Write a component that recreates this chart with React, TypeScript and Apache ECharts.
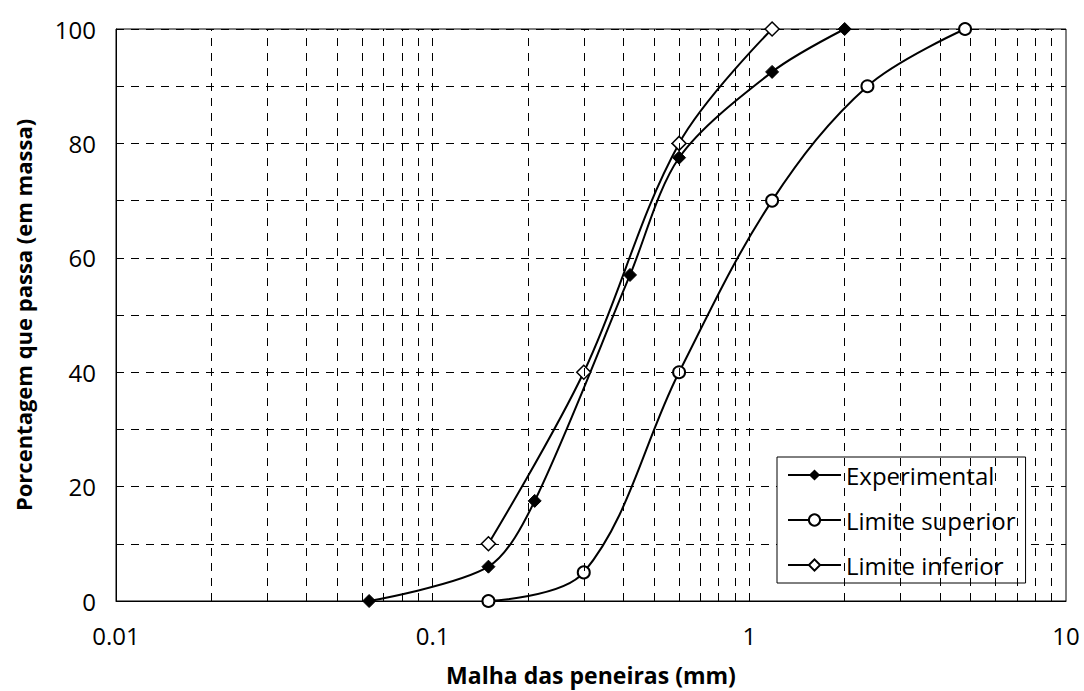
import React, { useEffect, useRef } from "react";
import * as echarts from "echarts";

const sieveExp = [0.063, 0.15, 0.21, 0.42, 0.6, 1.18, 2.0];
const passExp = [0, 6, 17.5, 57, 77.5, 92.5, 100];
const sieveSup = [0.15, 0.3, 0.6, 1.18, 2.36, 4.8];
const passSup = [0, 5, 40, 70, 90, 100];
const sieveInf = [0.15, 0.3, 0.6, 1.18];
const passInf = [10, 40, 80, 100];
const gridXValues = [
  0.02, 0.03, 0.04, 0.05, 0.06, 0.07, 0.08, 0.09, 0.1,
  0.2, 0.3, 0.4, 0.5, 0.6, 0.7, 0.8, 0.9, 1,
  2, 3, 4, 5, 6, 7, 8, 9,
];
const xTickLabels: Record<string, string> = { "0.01": "0.01", "0.1": "0.1", "1": "1", "10": "10" };
const seriesNames = ["Experimental", "Limite superior", "Limite inferior"];

const FONT = "'Open Sans'";

export default function App() {
  const ref = useRef<HTMLDivElement>(null);
  useEffect(() => {
    if (!ref.current) return;
    const chart = echarts.init(ref.current, undefined, { renderer: "svg" });
    const zip = (xs: number[], ys: number[]) => xs.map((x, i) => [x, ys[i]]);
    const lineStyle = { color: "#000", width: 2 };
    chart.setOption({
      animation: false,
      backgroundColor: "#fff",
      grid: {
        left: 116,
        right: 18,
        top: 29,
        bottom: 88,
        show: true,
        borderColor: "#000",
        borderWidth: 1,
        backgroundColor: "transparent",
      },
      legend: {
        left: 777,
        top: 457,
        orient: "vertical",
        data: seriesNames,
        itemWidth: 53,
        itemHeight: 14,
        itemGap: 21,
        padding: [6, 10, 6, 10],
        backgroundColor: "#fff",
        borderColor: "#000",
        borderWidth: 1,
        borderRadius: 0,
        textStyle: { fontFamily: FONT, fontSize: 24, color: "#000", lineHeight: 24 },
      },
      xAxis: {
        type: "log",
        logBase: 10,
        min: 0.01,
        max: 10,
        name: "Malha das peneiras (mm)",
        nameLocation: "middle",
        nameGap: 62,
        nameTextStyle: { fontFamily: FONT, fontSize: 23, fontWeight: "bold", color: "#000" },
        axisLine: { show: true, lineStyle: { color: "#000", width: 1 } },
        axisTick: { show: false },
        splitLine: { show: false },
        axisLabel: {
          fontFamily: FONT,
          fontSize: 24,
          color: "#000",
          margin: 22,
          formatter: (v: number) => xTickLabels[String(+v.toPrecision(3))] ?? "",
        },
      },
      yAxis: {
        type: "value",
        min: 0,
        max: 100,
        interval: 10,
        name: "Porcentagem que passa (em massa)",
        nameLocation: "middle",
        nameGap: 82,
        nameTextStyle: { fontFamily: FONT, fontSize: 22, fontWeight: "bold", color: "#000" },
        axisLine: { show: true, lineStyle: { color: "#000", width: 1 } },
        axisTick: { show: false },
        splitLine: { show: true, lineStyle: { color: "#000", width: 1, type: [8, 7] } },
        axisLabel: {
          fontFamily: FONT,
          fontSize: 24,
          color: "#000",
          margin: 20,
          formatter: (v: number) => (v % 20 === 0 ? String(v) : ""),
        },
      },
      series: [
        {
          name: seriesNames[0],
          type: "line",
          data: zip(sieveExp, passExp),
          smooth: 0.3,
          symbol: "diamond",
          symbolSize: 13,
          lineStyle,
          itemStyle: { color: "#000", borderColor: "#000" },
          z: 3,
          markLine: {
            silent: true,
            symbol: ["none", "none"],
            label: { show: false },
            lineStyle: { color: "#000", width: 1, type: [8, 7] },
            data: gridXValues.map((v) => ({ xAxis: v })),
          },
        },
        {
          name: seriesNames[1],
          type: "line",
          data: zip(sieveSup, passSup),
          smooth: 0.35,
          symbol: "circle",
          symbolSize: 12,
          showAllSymbol: true,
          lineStyle,
          itemStyle: { color: "#fff", borderColor: "#000", borderWidth: 2 },
          z: 3,
        },
        {
          name: seriesNames[2],
          type: "line",
          data: zip(sieveInf, passInf),
          smooth: 0.35,
          symbol: "diamond",
          symbolSize: 14,
          lineStyle,
          itemStyle: { color: "#fff", borderColor: "#000", borderWidth: 1.5 },
          z: 3,
        },
      ],
    });
    return () => chart.dispose();
  }, []);
  return (
    <div
      ref={ref}
      style={{ position: "fixed", left: 0, top: 0, width: 1084, height: 691, background: "#fff" }}
    />
  );
}
